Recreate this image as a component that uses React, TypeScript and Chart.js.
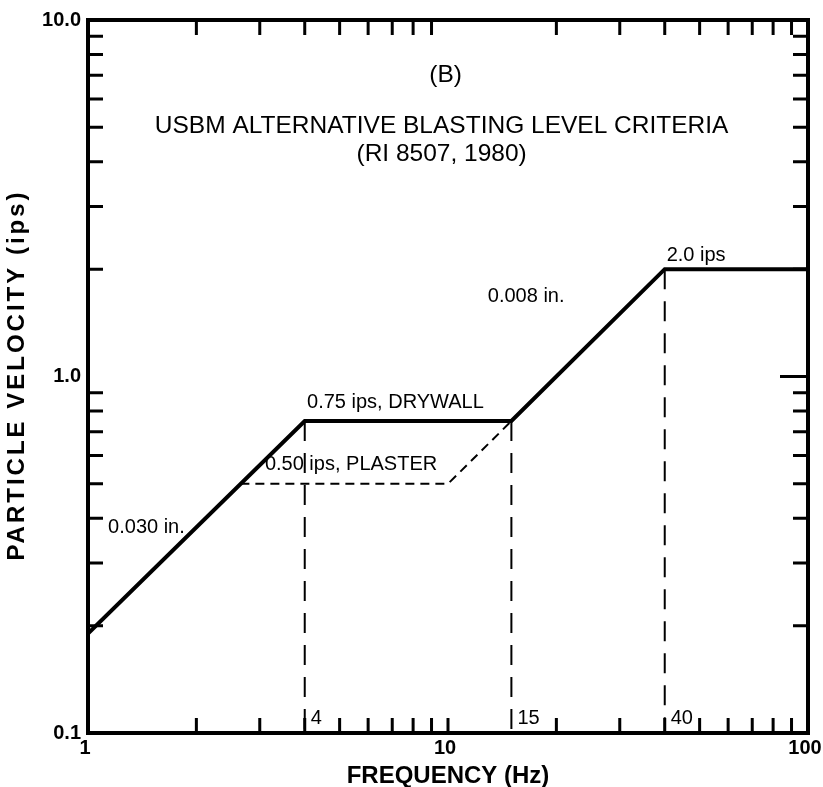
import React, { useEffect, useRef } from 'react';
import { Chart, registerables } from 'chart.js';

Chart.register(...registerables);

// ---- data ----
const limitFreq = [1, 4, 15, 40, 100];
const limitVel = [0.19, 0.75, 0.75, 2.0, 2.0];
const plasterFreq = [2.65, 10, 15];
const plasterVel = [0.5, 0.5, 0.75];
const markerFreq = [4, 15, 40];
const markerTopVel = [0.75, 0.75, 2.0];
const markerLabels = ['4', '15', '40'];
const xTickValues = [1, 10, 100];
const xTickLabels = ['1', '10', '100'];
const yTickValues = [0.1, 1, 10];
const yTickLabels = ['0.1', '1.0', '10.0'];
const xMinorTop = [2, 3, 4, 5, 6, 7, 8, 9, 20, 30, 40, 50, 60, 70, 80, 90];
const xMinorBottom = [2, 3, 4, 5, 6, 7, 8, 9, 10, 20, 30, 40, 50, 60, 70, 80, 90];
const yMinor = [0.2, 0.3, 0.4, 0.5, 0.6, 0.7, 0.8, 0.9, 2, 3, 4, 5, 6, 7, 8, 9];

const xAxisTitle = 'FREQUENCY (Hz)';
const yAxisTitle = 'PARTICLE VELOCITY (ips)';

const titleLines = ['(B)', 'USBM ALTERNATIVE BLASTING LEVEL CRITERIA', '(RI 8507, 1980)'];
const titleFreq = [9.85, 9.6, 9.6];
const titleVel = [7.0, 5.05, 4.2];

const noteTexts = ['0.75 ips, DRYWALL', '0.50 ips, PLASTER', '0.030 in.', '0.008 in.', '2.0 ips'];
const noteFreq = [4.06, 3.1, 1.137, 12.9, 40.5];
const noteVel = [0.843, 0.565, 0.378, 1.68, 2.19];

const FONT = '"Liberation Sans", Arial, Helvetica, sans-serif';

const overlayPlugin = {
  id: 'overlay',
  afterDatasetsDraw(chart: any) {
    const { ctx, chartArea: a, scales } = chart;
    const xs = scales.x;
    const ys = scales.y;
    ctx.save();
    ctx.strokeStyle = '#000';
    ctx.fillStyle = '#000';
    // minor ticks (inward)
    const tl = 15;
    ctx.lineWidth = 3;
    ctx.beginPath();
    xMinorTop.forEach((v) => {
      const px = xs.getPixelForValue(v);
      ctx.moveTo(px, a.top);
      ctx.lineTo(px, a.top + tl);
    });
    xMinorBottom.forEach((v) => {
      const px = xs.getPixelForValue(v);
      ctx.moveTo(px, a.bottom);
      ctx.lineTo(px, a.bottom - tl);
    });
    yMinor.forEach((v) => {
      const py = ys.getPixelForValue(v);
      ctx.moveTo(a.left, py);
      ctx.lineTo(a.left + tl, py);
      ctx.moveTo(a.right, py);
      ctx.lineTo(a.right - tl, py);
    });
    const p1 = ys.getPixelForValue(1);
    ctx.moveTo(a.right, p1);
    ctx.lineTo(a.right - 28, p1);
    ctx.stroke();
    // frame
    ctx.lineWidth = 4;
    ctx.strokeRect(a.left, a.top, a.right - a.left, a.bottom - a.top);

    // titles
    ctx.textAlign = 'center';
    ctx.textBaseline = 'middle';
    ctx.font = `24.5px ${FONT}`;
    titleLines.forEach((t, i) => {
      ctx.fillText(t, xs.getPixelForValue(titleFreq[i]), ys.getPixelForValue(titleVel[i]));
    });
    // notes
    ctx.textAlign = 'left';
    ctx.font = `20px ${FONT}`;
    noteTexts.forEach((t, i) => {
      ctx.fillText(t, xs.getPixelForValue(noteFreq[i]), ys.getPixelForValue(noteVel[i]));
    });
    // marker labels
    markerLabels.forEach((t, i) => {
      ctx.fillText(t, xs.getPixelForValue(markerFreq[i]) + 6, a.bottom - 15);
    });

    // y-axis title (wide lettering like the original)
    ctx.save();
    ctx.translate(17, (a.top + a.bottom) / 2);
    ctx.rotate(-Math.PI / 2);
    ctx.textAlign = 'center';
    ctx.font = `bold 24px ${FONT}`;
    try {
      (ctx as any).letterSpacing = '3px';
    } catch (e) {}
    ctx.fillText(yAxisTitle, 1.5, 0);
    ctx.restore();
    ctx.restore();
  },
};

export default function App() {
  const ref = useRef<HTMLCanvasElement>(null);
  useEffect(() => {
    if (!ref.current) return;
    const markerSets = markerFreq.map((f, i) => ({
      data: [
        { x: f, y: markerTopVel[i] },
        { x: f, y: 0.1 },
      ],
      borderColor: '#000',
      borderWidth: 2,
      borderDash: [20, 12],
      pointRadius: 0,
      fill: false,
    }));
    const chart = new Chart(ref.current, {
      type: 'line',
      data: {
        datasets: [
          ...markerSets,
          {
            data: plasterFreq.map((f, i) => ({ x: f, y: plasterVel[i] })),
            borderColor: '#000',
            borderWidth: 2,
            borderDash: [9, 6],
            pointRadius: 0,
            fill: false,
          },
          {
            data: limitFreq.map((f, i) => ({ x: f, y: limitVel[i] })),
            borderColor: '#000',
            borderWidth: 4,
            pointRadius: 0,
            fill: false,
          },
        ] as any,
      },
      options: {
        animation: false,
        responsive: false,
        devicePixelRatio: 1,
        layout: { padding: { left: 0, top: 20, right: 15, bottom: 0 } },
        plugins: { legend: { display: false }, tooltip: { enabled: false } },
        scales: {
          x: {
            type: 'logarithmic',
            min: 1,
            max: 100,
            grid: { display: false, drawTicks: false },
            border: { display: false },
            afterBuildTicks: (s: any) => {
              s.ticks = xTickValues.map((v) => ({ value: v }));
            },
            afterFit: (s: any) => {
              s.height = 54;
              s.paddingLeft = 0;
              s.paddingRight = 0;
            },
            ticks: {
              autoSkip: false,
              maxRotation: 0,
              padding: 3,
              labelOffset: -3,
              color: '#000',
              font: { family: FONT, size: 20, weight: 'bold' },
              callback: (v: any) => {
                const i = xTickValues.indexOf(Number(v));
                return i >= 0 ? xTickLabels[i] : '';
              },
            },
            title: {
              display: true,
              text: xAxisTitle,
              color: '#000',
              font: { family: FONT, size: 24, weight: 'bold' },
              padding: { top: 0, bottom: -4 },
            },
          },
          y: {
            type: 'logarithmic',
            min: 0.1,
            max: 10,
            grid: { display: false, drawTicks: false },
            border: { display: false },
            afterBuildTicks: (s: any) => {
              s.ticks = yTickValues.map((v) => ({ value: v }));
            },
            afterFit: (s: any) => {
              s.width = 88;
              s.paddingTop = 0;
              s.paddingBottom = 0;
            },
            ticks: {
              autoSkip: false,
              padding: 7,
              color: '#000',
              font: { family: FONT, size: 20, weight: 'bold' },
              callback: (v: any) => {
                const i = yTickValues.indexOf(Number(v));
                return i >= 0 ? yTickLabels[i] : '';
              },
            },
            title: { display: false },
          },
        },
      } as any,
      plugins: [overlayPlugin],
    });
    return () => chart.destroy();
  }, []);
  return (
    <div style={{ position: 'absolute', left: 0, top: 0, width: 823, height: 787, background: '#fff' }}>
      <canvas ref={ref} width={823} height={787} style={{ display: 'block' }} />
    </div>
  );
}
